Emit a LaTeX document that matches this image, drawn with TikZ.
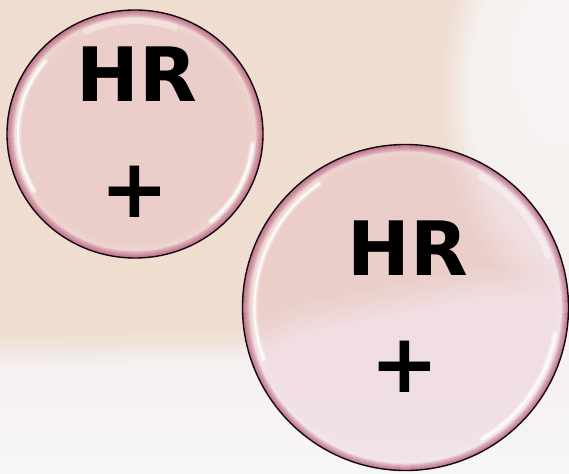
\documentclass[tikz,border=0pt]{standalone}
\usepackage{fontspec}
\usetikzlibrary{fadings}
\newfontfamily\hrfont{DejaVu Sans}
\definecolor{peach}{RGB}{239,221,208}
\definecolor{lightbg}{RGB}{245,241,240}
\definecolor{whitebg}{RGB}{247,246,246}
\definecolor{pinkfill}{RGB}{220,150,175}
\definecolor{rimc}{RGB}{185,100,135}
\begin{document}
\begin{tikzpicture}[x=1pt,y=-1pt,
  hrtext/.style={font=\hrfont\bfseries\fontsize{75}{75}\selectfont, inner sep=0pt, text=black},
  plustext/.style={font=\hrfont\bfseries\fontsize{82}{82}\selectfont, inner sep=0pt, text=black},
  outline/.style={draw=black!90!rimc, line width=1.4pt},
  glosswide/.style={draw=white, line cap=round, line width=6pt, opacity=0.35},
  glossthin/.style={draw=white, line cap=round, line width=2.2pt, opacity=0.85},
  softband/.style={draw=peach!50!lightbg, line join=round, opacity=0.3}]
\useasboundingbox (0,0) rectangle (569,473);
% background
\fill[lightbg] (0,0) rectangle (569,473);
\shade[top color=lightbg, bottom color=whitebg] (0,380) rectangle (569,473);
\fill[peach] (0,0) -- (569,0) -- (569,280) -- (480,282) -- (300,318) -- (240,345) -- (0,350) -- cycle;
\foreach \w in {28,20,12,6}
  \draw[softband, line width=\w pt] (-10,350) -- (240,345) -- (300,318) -- (480,282) -- (580,280);
\fill[whitebg, opacity=0.8, path fading=circle with fuzzy edge 20 percent] (590,90) ellipse[x radius=150, y radius=230];
\fill[whitebg, opacity=0.5, path fading=circle with fuzzy edge 20 percent] (560,60) ellipse[x radius=60, y radius=110];
% sphere centres
\coordinate (S) at (135,134);
\coordinate (L) at (405.5,307.5);
% small sphere
\fill[pinkfill, opacity=0.2] (S) ellipse[x radius=128, y radius=124];
\foreach \k [evaluate=\k as \op using 0.8*(1-\k/7)] in {0,...,6}
  \draw[rimc, line width=1.3pt, opacity=\op] (S) ellipse[x radius=127.5-\k, y radius=123.5-\k];
\foreach \k [evaluate=\k as \op using 0.12*(1-(\k-7)/8)] in {7,...,14}
  \draw[white, line width=1.3pt, opacity=\op] (S) ellipse[x radius=127.5-\k, y radius=123.5-\k];
\draw[glosswide] ([shift={(150:117 and 113)}]S) arc[start angle=150, end angle=220, x radius=117, y radius=113];
\draw[glossthin] ([shift={(150:117 and 113)}]S) arc[start angle=150, end angle=220, x radius=117, y radius=113];
\draw[glosswide] ([shift={(5:118 and 114)}]S) arc[start angle=5, end angle=50, x radius=118, y radius=114];
\draw[glossthin] ([shift={(5:118 and 114)}]S) arc[start angle=5, end angle=50, x radius=118, y radius=114];
\draw[glosswide] ([shift={(-115:117 and 113)}]S) arc[start angle=-115, end angle=-70, x radius=117, y radius=113];
\draw[outline] (S) ellipse[x radius=128, y radius=124];
% large sphere
\fill[pinkfill, opacity=0.2] (L) circle[radius=163];
\foreach \k [evaluate=\k as \op using 0.8*(1-\k/7)] in {0,...,6}
  \draw[rimc, line width=1.3pt, opacity=\op] (L) circle[radius=162.5-\k];
\foreach \k [evaluate=\k as \op using 0.12*(1-(\k-7)/8)] in {7,...,14}
  \draw[white, line width=1.3pt, opacity=\op] (L) circle[radius=162.5-\k];
\draw[glosswide] ([shift={(160:151)}]L) arc[start angle=160, end angle=235, radius=151];
\draw[glossthin] ([shift={(160:151)}]L) arc[start angle=160, end angle=235, radius=151];
\draw[glosswide] ([shift={(10:152)}]L) arc[start angle=10, end angle=60, radius=152];
\draw[glossthin] ([shift={(10:152)}]L) arc[start angle=10, end angle=60, radius=152];
\draw[glosswide] ([shift={(-60:151)}]L) arc[start angle=-60, end angle=-20, radius=151];
\draw[outline] (L) circle[radius=163];
% texts
\node[hrtext] (hr1) at (137,74) {HR};
\node[plustext] (p1) at (135,192) {+};
\node[hrtext] (hr2) at (408,248) {HR};
\node[plustext] (p2) at (405,367) {+};
\end{tikzpicture}
\end{document}
